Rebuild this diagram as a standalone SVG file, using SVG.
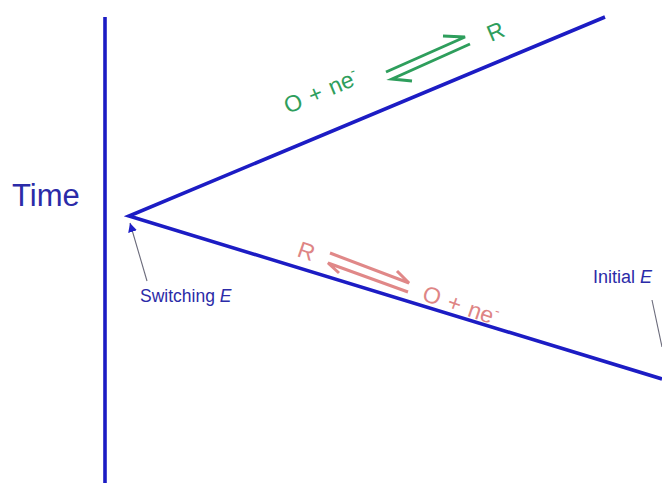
<svg xmlns="http://www.w3.org/2000/svg" width="662" height="483" viewBox="0 0 662 483">
<defs>
<style>
.axis{stroke:#1c1cc4;stroke-width:3.6;fill:none;stroke-linecap:butt}
.gh{stroke:#2e9e5c;stroke-width:3;fill:none;stroke-linejoin:miter}
.rh{stroke:#e08888;stroke-width:3;fill:none;stroke-linejoin:miter}
.ptr{stroke:#6a6a7a;stroke-width:1.1;fill:none}
.t{font-family:"Liberation Sans",Arial,sans-serif}
.g{fill:#2e9e5c;font-size:23px;word-spacing:2px}
.r{fill:#de8585;font-size:23px;word-spacing:2px}
.lab{fill:#2b2ba8}
</style>
<marker id="ah" viewBox="0 0 10 10" refX="10" refY="5" markerWidth="9" markerHeight="9" markerUnits="userSpaceOnUse" orient="auto">
<path d="M0,0 L10,5 L0,10 z" fill="#1f1fc8"/>
</marker>
</defs>
<rect width="662" height="483" fill="#ffffff"/>
<g id="connectors">
<line class="axis" x1="105" y1="17" x2="105" y2="483"/>
<polyline class="axis" points="605,17 129,216 662,379"/>
<line class="ptr" x1="147" y1="281" x2="130" y2="223" marker-end="url(#ah)"/>
<line class="ptr" x1="652" y1="300" x2="662" y2="347"/>
</g>
<g id="green-equilibrium">
<path class="gh" d="M386,72 L465,37 L443,36"/>
<path class="gh" d="M470,44 L392,79 L412,81"/>
<text class="t g" transform="translate(288,114) rotate(-23)">O + ne<tspan font-size="14" dy="-10">-</tspan></text>
<text class="t g" transform="translate(491,42) rotate(-23)">R</text>
</g>
<g id="red-equilibrium">
<path class="rh" d="M330,253 L409,283 L397,271"/>
<path class="rh" d="M408,292 L328,263 L339,273"/>
<text class="t r" transform="translate(296,256) rotate(19)">R</text>
<text class="t r" transform="translate(421,300) rotate(19)">O + ne<tspan font-size="14" dy="-10">-</tspan></text>
</g>
<g id="time-label">
<text class="t lab" x="12" y="206" font-size="31">Time</text>
</g>
<g id="switching-label">
<text class="t lab" x="140" y="302" font-size="17.5">Switching <tspan font-style="italic">E</tspan></text>
</g>
<g id="initial-label">
<text class="t lab" x="593" y="283" font-size="18">Initial <tspan font-style="italic">E</tspan></text>
</g>
</svg>
